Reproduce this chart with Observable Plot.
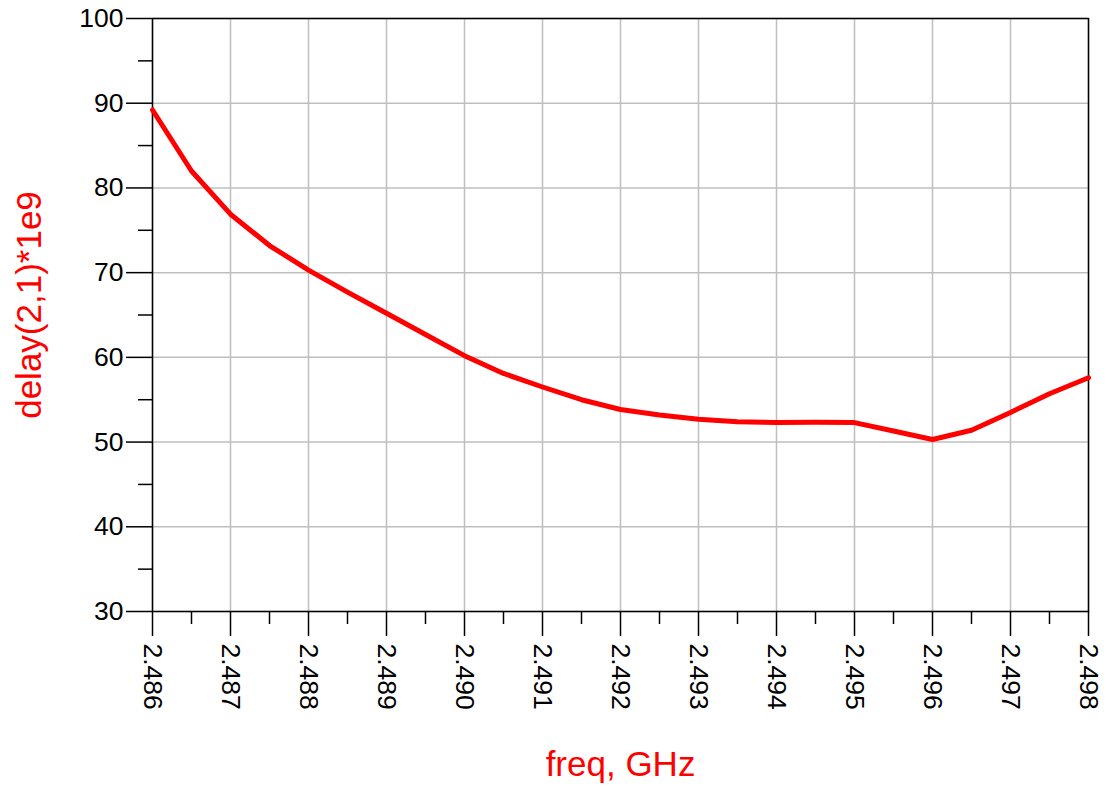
<!DOCTYPE html>
<html>
<head>
<meta charset="utf-8">
<script src="https://cdn.jsdelivr.net/npm/d3@7"></script>
<script src="https://cdn.jsdelivr.net/npm/@observablehq/plot@0.6"></script>
<style>
  html, body { margin: 0; padding: 0; background: #fff; }
  #chart { width: 1107px; height: 789px; }
</style>
</head>
<body>
<div id="chart"></div>
<script>
// Data
const freq = [2.486, 2.4865, 2.487, 2.4875, 2.488, 2.4885, 2.489, 2.4895, 2.490, 2.4905,
              2.491, 2.4915, 2.492, 2.4925, 2.493, 2.4935, 2.494, 2.4945, 2.495, 2.4955,
              2.496, 2.4965, 2.497, 2.4975, 2.498];
const delay = [89.2, 82.0, 76.9, 73.2, 70.3, 67.7, 65.2, 62.7, 60.2, 58.1,
               56.5, 55.0, 53.85, 53.2, 52.7, 52.4, 52.3, 52.35, 52.3, 51.3,
               50.3, 51.4, 53.5, 55.7, 57.6];

const xMajor = [2.486, 2.487, 2.488, 2.489, 2.490, 2.491, 2.492, 2.493, 2.494, 2.495, 2.496, 2.497, 2.498];
const xMinor = [2.4865, 2.4875, 2.4885, 2.4895, 2.4905, 2.4915, 2.4925, 2.4935, 2.4945, 2.4955, 2.4965, 2.4975];
const xTickLabels = ["2.486", "2.487", "2.488", "2.489", "2.490", "2.491", "2.492", "2.493", "2.494", "2.495", "2.496", "2.497", "2.498"];
const yMajor = [30, 40, 50, 60, 70, 80, 90, 100];
const yMinor = [35, 45, 55, 65, 75, 85, 95];

const xTitle = "freq, GHz";
const yTitle = "delay(2,1)*1e9";

const rows = freq.map((f, i) => ({freq: f, delay: delay[i]}));
const xLabelRows = xMajor.map((v, i) => ({v, t: xTickLabels[i]}));

const font = "'Liberation Sans', Arial, sans-serif";

const chart = Plot.plot({
  width: 1107,
  height: 789,
  marginLeft: 152,
  marginRight: 19,
  marginTop: 18,
  marginBottom: 178,
  style: {fontFamily: font, background: "#fff", color: "#000", overflow: "visible"},
  x: {domain: [2.486, 2.498], axis: null},
  y: {domain: [30, 100], axis: null},
  marks: [
    Plot.gridX(xMajor, {stroke: "#bfbfbf", strokeOpacity: 1, strokeWidth: 1.5}),
    Plot.gridY(yMajor, {stroke: "#bfbfbf", strokeOpacity: 1, strokeWidth: 1.5}),
    Plot.frame({stroke: "#000", strokeWidth: 1.5}),
    Plot.axisX(xMajor, {tickSize: 25, text: null, label: null, strokeWidth: 1.5}),
    Plot.axisX(xMinor, {tickSize: 13, text: null, label: null, strokeWidth: 1.5}),
    Plot.axisY(yMajor, {tickSize: 26, tickPadding: 3, label: null, fontSize: 26.5, strokeWidth: 1.5, tickFormat: d => String(d)}),
    Plot.axisY(yMinor, {tickSize: 14, text: null, label: null, strokeWidth: 1.5}),
    Plot.text(xLabelRows, {
      x: "v", text: "t", frameAnchor: "bottom", rotate: 90,
      textAnchor: "start", lineAnchor: "middle", dy: 32, fontSize: 26.5, fill: "#000"
    }),
    Plot.line(rows, {x: "freq", y: "delay", stroke: "#ff0000", strokeWidth: 5, strokeLinejoin: "round"}),
    Plot.text([xTitle], {frameAnchor: "bottom", dy: 153, fontSize: 35, fill: "#ff0000", lineAnchor: "middle", textAnchor: "middle"}),
    Plot.text([yTitle], {frameAnchor: "left", rotate: -90, dx: -123, dy: -10, fontSize: 35, fill: "#ff0000", lineAnchor: "middle", textAnchor: "middle"})
  ]
});
document.getElementById("chart").appendChild(chart);
</script>
</body>
</html>
